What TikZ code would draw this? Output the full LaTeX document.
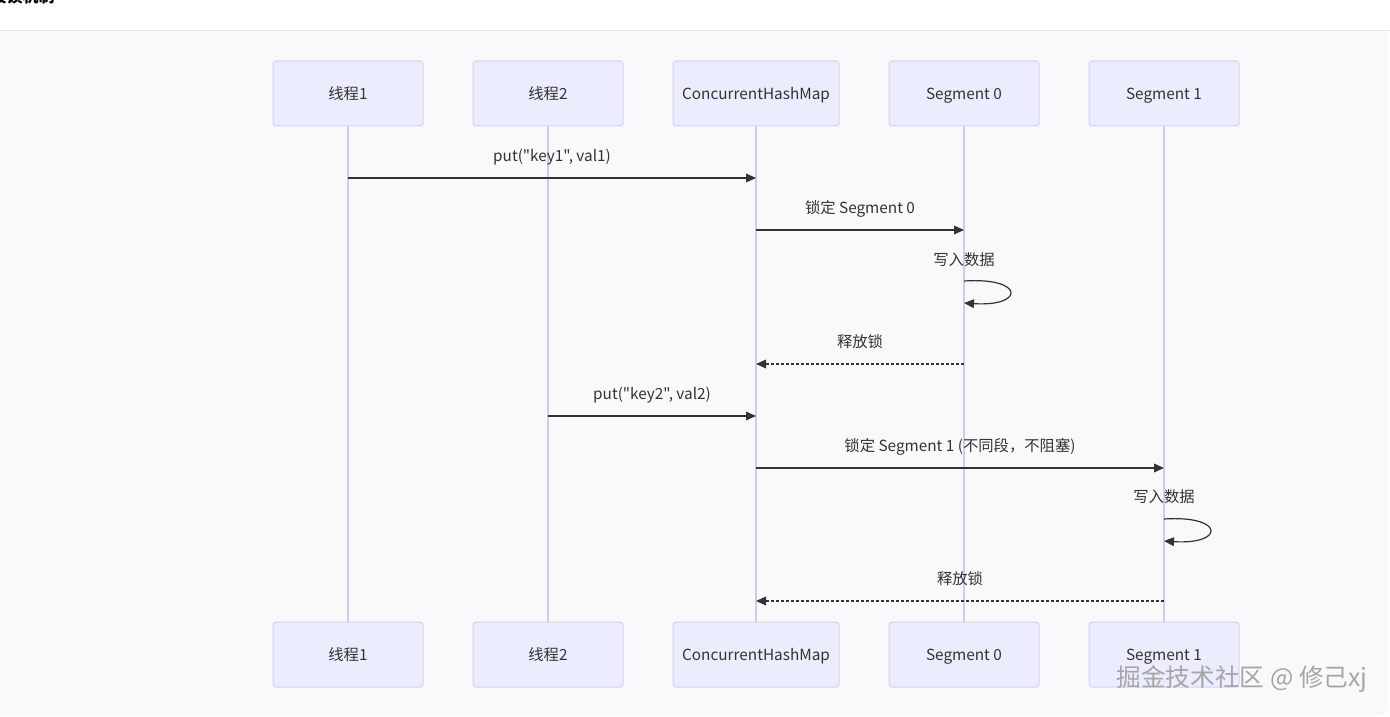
\documentclass[tikz,border=0pt]{standalone}
\usepackage{fontspec}
\newfontfamily\diagfont{Noto Sans CJK SC}
\usetikzlibrary{arrows.meta}
\definecolor{actorfill}{HTML}{ECECFF}
\definecolor{actorline}{HTML}{D6D2F0}
\definecolor{lifeline}{HTML}{CFCAEE}
\definecolor{msgline}{HTML}{333333}
\definecolor{pagebg}{HTML}{F8F9FB}
\begin{document}
\begin{tikzpicture}
[
x=0.75pt, y=-0.75pt,
every node/.style={font=\diagfont\fontsize{11.5}{13.5}\selectfont, text=msgline, text height=1em, text depth=0.12em},
Actor/.style={rectangle, rounded corners=2.25pt, draw=actorline, fill=actorfill, line width=0.75pt, minimum height=48.75pt, minimum width=112.5pt},
Wideactor/.style={Actor, minimum width=124.5pt},
Lifeline/.style={draw=lifeline, line width=0.9pt},
Message/.style={-{Triangle[length=7.5pt,width=6.5pt]}, draw=msgline, line width=0.9pt},
Reply/.style={Message, dash pattern=on 2.25pt off 1.5pt},
Label/.style={inner sep=0pt},
Heading/.style={font=\diagfont\fontsize{12}{14}\selectfont\bfseries, text=black, anchor=west},
Mark/.style={font=\diagfont\fontsize{18.5}{20}\selectfont, text=gray!70}
]
\useasboundingbox (0,0) rectangle (1390,717);

% page
\fill[white] (0,0) rectangle (1390,717);
\fill[pagebg, rounded corners=6pt] (-20,31) rectangle (1388,715);
\draw[gray!20, line width=0.75pt] (0,30.5) -- (1390,30.5);
\node[Heading] (title) at (-30,-3) {分段锁机制};

% actors
\node[Actor]     (t1top)  at (348,93.5)  {线程1};
\node[Actor]     (t2top)  at (548,93.5)  {线程2};
\node[Wideactor] (chmtop) at (756,93.5)  {ConcurrentHashMap};
\node[Actor]     (s0top)  at (964,93.5)  {Segment 0};
\node[Actor]     (s1top)  at (1164,93.5) {Segment 1};

\node[Actor]     (t1bot)  at (348,654.5)  {线程1};
\node[Actor]     (t2bot)  at (548,654.5)  {线程2};
\node[Wideactor] (chmbot) at (756,654.5)  {ConcurrentHashMap};
\node[Actor]     (s0bot)  at (964,654.5)  {Segment 0};
\node[Actor]     (s1bot)  at (1164,654.5) {Segment 1};

\draw[Lifeline] (t1top) -- (t1bot);
\draw[Lifeline] (t2top) -- (t2bot);
\draw[Lifeline] (chmtop) -- (chmbot);
\draw[Lifeline] (s0top) -- (s0bot);
\draw[Lifeline] (s1top) -- (s1bot);

% messages
\draw[Message] (t1top |- 0,178) -- (chmtop |- 0,178)
  node[Label, midway, yshift=16.5pt] (m1) {put("key1", val1)};
\draw[Message] (chmtop |- 0,230) -- (s0top |- 0,230)
  node[Label, midway, yshift=16.5pt] (m2) {锁定 Segment 0};
\node[Label] (m3) at (s0top |- 0,260) {写入数据};
\draw[Message] (s0top |- 0,281) .. controls (1025,277) and (1025,307) .. (s0top |- 0,303);
\draw[Reply] (s0top |- 0,364) -- (chmtop |- 0,364)
  node[Label, midway, yshift=17pt] (m4) {释放锁};
\draw[Message] (t2top |- 0,416) -- (chmtop |- 0,416)
  node[Label, midway, yshift=16.5pt] (m5) {put("key2", val2)};
\draw[Message] (chmtop |- 0,468) -- (s1top |- 0,468)
  node[Label, midway, yshift=16.5pt] (m6) {锁定 Segment 1 (不同段，不阻塞)};
\node[Label] (m7) at (s1top |- 0,497) {写入数据};
\draw[Message] (s1top |- 0,519) .. controls (1225,515) and (1225,545) .. (s1top |- 0,541);
\draw[Reply] (s1top |- 0,601) -- (chmtop |- 0,601)
  node[Label, midway, yshift=17pt] (m8) {释放锁};

\node[Mark] (mark) at (1242,681) {掘金技术社区 @ 修己xj};
\end{tikzpicture}
\end{document}
